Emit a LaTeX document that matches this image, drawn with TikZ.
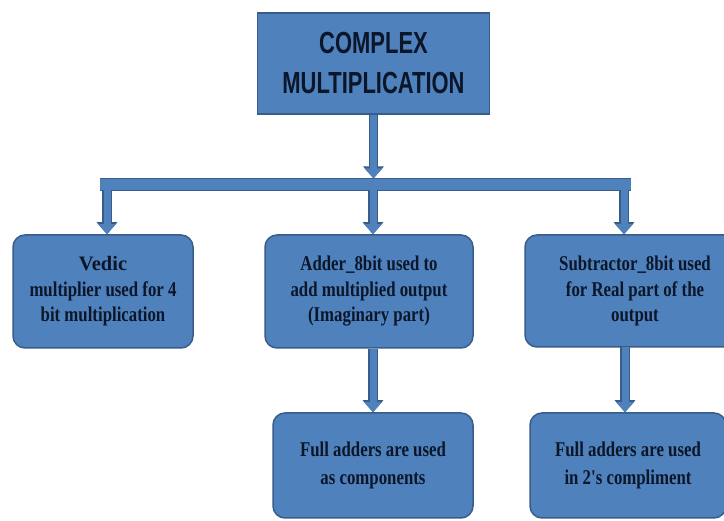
\documentclass[tikz,border=0pt]{standalone}
\usepackage{fontspec}
\usetikzlibrary{arrows.meta}
\newfontfamily\hdrfont[FakeStretch=0.72]{Liberation Sans}
\newfontfamily\bodyfont[FakeStretch=0.8]{Liberation Serif}
\newfontfamily\vedfont{Liberation Serif}
\definecolor{boxfill}{HTML}{4F81BD}
\definecolor{boxedge}{HTML}{385D8A}
\definecolor{txt}{HTML}{0B1629}
\tikzset{
  topbox/.style={draw=boxedge, line width=1.5pt, fill=boxfill, align=center, text=txt,
    inner sep=0pt, font=\hdrfont\bfseries\fontsize{30.5}{40}\selectfont},
  midbox/.style={draw=boxedge, line width=1.5pt, fill=boxfill, rounded corners=12pt,
    align=center, text=txt, inner sep=0pt, font=\bodyfont\bfseries\fontsize{21}{25.5}\selectfont},
  lowbox/.style={midbox, font=\bodyfont\bfseries\fontsize{21}{28}\selectfont},
  conn/.style={line width=7pt, draw=boxfill, -{Triangle[width=17pt,length=10pt]},
    preaction={draw=boxedge, line width=9.5pt, -{Triangle[width=20pt,length=12pt]}}},
  barline/.style={line width=11pt, draw=boxfill, preaction={draw=boxedge, line width=13.5pt}}
}
\begin{document}
\begin{tikzpicture}[x=1pt,y=-1pt]
\useasboundingbox (0,0) rectangle (724,521);
\fill[white] (0,0) rectangle (724,521);
\clip (0,0) rectangle (724,521);
% boxes
\node[topbox, minimum width=232pt, minimum height=101pt] (top) at (373.5,63.5) {\raisebox{-2pt}{COMPLEX}\\\raisebox{-2pt}{MULTIPLICATION}};
\node[midbox, minimum width=180pt, minimum height=113pt] (vedic) at (103,291.5)
  {{\vedfont\bfseries\fontsize{20.5}{25.5}\selectfont Vedic}\\multiplier used for 4\\bit multiplication};
\node[midbox, minimum width=208pt, minimum height=113pt] (adder) at (369,291.5)
  {Adder\_8bit used to\\add multiplied output\\(Imaginary part)};
\node[midbox, minimum width=220pt, minimum height=112pt] (sub) at (635,291)
  {Subtractor\_8bit used\\for Real part of the\\output};
\node[lowbox, minimum width=200pt, minimum height=105pt] (fa1) at (373,465.5)
  {Full adders are used\\as components};
\node[lowbox, minimum width=196pt, minimum height=105pt] (fa2) at (628,465.5)
  {Full adders are used\\in 2's compliment};
% bar
\coordinate (bl) at (100,184.5);
\coordinate (br) at (631,184.5);
\draw[barline] (bl) -- (br);
\coordinate (bartop) at (373,178.5);
\coordinate (d1) at (107,190.5);
\coordinate (d2) at (373,190.5);
\coordinate (d3) at (624,190.5);
\coordinate (s2) at (625,347);
% connectors
\draw[conn] (top.south) -- (top.south |- bartop);
\draw[conn] (d1) -- (d1 |- vedic.north);
\draw[conn] (d2) -- (d2 |- adder.north);
\draw[conn] (d3) -- (d3 |- sub.north);
\draw[conn] (fa1.north |- adder.south) -- (fa1.north);
\draw[conn] (s2) -- (s2 |- fa2.north);
\end{tikzpicture}
\end{document}
